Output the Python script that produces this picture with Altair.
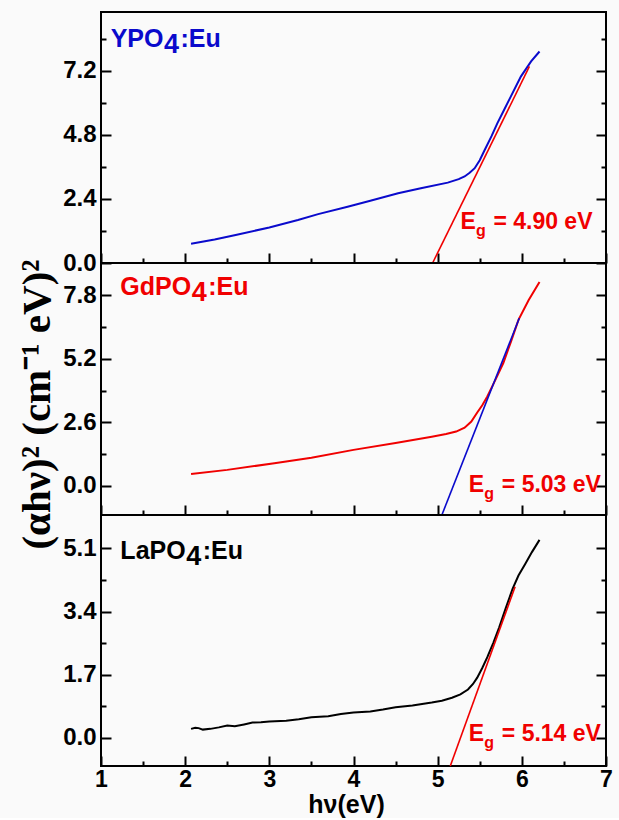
import altair as alt
import pandas as pd

# ---------------- data ----------------
ypo_x = [2.07, 2.35, 2.60, 3.00, 3.34, 3.58, 3.93, 4.20, 4.53, 4.80, 5.12, 5.25, 5.32, 5.38,
         5.44, 5.50, 5.56, 5.64, 5.71, 5.79, 5.87, 5.99, 6.11, 6.21]
ypo_y = [0.72, 0.88, 1.05, 1.33, 1.61, 1.83, 2.11, 2.33, 2.61, 2.80, 3.01, 3.14, 3.24, 3.38,
         3.55, 3.85, 4.24, 4.75, 5.24, 5.74, 6.24, 6.99, 7.55, 7.92]
ypo_fit_x = [4.94, 6.09]
ypo_fit_y = [0.0, 7.36]

gd_x = [2.07, 2.50, 3.06, 3.50, 4.00, 4.50, 4.93, 5.10, 5.22, 5.32, 5.40, 5.47, 5.53, 5.59,
        5.68, 5.78, 5.87, 5.96, 6.08, 6.21]
gd_y = [0.48, 0.65, 0.92, 1.15, 1.47, 1.75, 2.01, 2.12, 2.22, 2.38, 2.63, 3.00, 3.30, 3.66,
        4.30, 5.03, 5.90, 6.80, 7.60, 8.35]
gd_fit_x = [5.05, 5.97]
gd_fit_y = [-1.2, 6.87]

la_x = [2.07, 2.12, 2.16, 2.21, 2.30, 2.40, 2.50, 2.59, 2.70, 2.80, 2.90, 3.00, 3.20, 3.35,
        3.50, 3.70, 3.85, 4.00, 4.20, 4.35, 4.50, 4.70, 4.93, 5.05, 5.17, 5.27, 5.36, 5.42,
        5.47, 5.53, 5.59, 5.66, 5.73, 5.81, 5.89, 5.96, 6.04, 6.12, 6.21]
la_y = [0.24, 0.27, 0.26, 0.22, 0.24, 0.28, 0.33, 0.31, 0.36, 0.41, 0.42, 0.44, 0.46, 0.50,
        0.55, 0.58, 0.64, 0.68, 0.71, 0.76, 0.82, 0.87, 0.95, 1.00, 1.08, 1.17, 1.30, 1.45,
        1.62, 1.88, 2.17, 2.55, 2.97, 3.50, 4.01, 4.37, 4.68, 5.00, 5.33]
la_fit_x = [5.15, 5.92]
la_fit_y = [-0.76, 4.07]

names = ["YPO", "GdPO", "LaPO"]
name_suffix = ["4", ":Eu"]
name_x = [1.115, 1.23, 1.23]
name_y = [8.09, 7.83, 4.81]
eg_values = ["= 4.90 eV", "= 5.03 eV", "= 5.14 eV"]
eg_x = [5.27, 5.37, 5.37]
eg_y = [1.26, -0.25, -0.09]

x_domain = [1, 7]
x_major = [1, 2, 3, 4, 5, 6, 7]
x_minor = [1.5, 2.5, 3.5, 4.5, 5.5, 6.5]

y_domains = [[0, 9.4], [-1.2, 9.13], [-0.76, 6.0]]
y_majors = [[0.0, 2.4, 4.8, 7.2], [0.0, 2.6, 5.2, 7.8], [0.0, 1.7, 3.4, 5.1]]
y_minors = [[1.2, 3.6, 6.0, 8.4], [1.3, 3.9, 6.5], [0.85, 2.55, 4.25]]

x_title = "hν(eV)"
y_title = "(αhν)² (cm⁻¹ eV)²"

# ---------------- styles ----------------
BLUE = "#0a0acc"
RED = "#f00000"
BLACK = "#000000"
SANS = "Liberation Sans"
SERIF = "Liberation Serif"
W = 505
HEIGHTS = [251, 252, 251]


def name_widths(n):
    metrics = {"Y": .667, "P": .667, "O": .778, "G": .778, "d": .611, "L": .611, "a": .556}
    return sum(metrics[c] for c in n) * 25


def panel(i, cx, cy, ccol, fx, fy, fcol, ncol, bottom=False, ytitle=False):
    curve = pd.DataFrame({"x": cx, "y": cy})
    fit = pd.DataFrame({"x": fx, "y": fy})
    xs = alt.Scale(domain=x_domain, nice=False, zero=False)
    ys = alt.Scale(domain=y_domains[i], nice=False, zero=False)

    tick_common = dict(domain=False, grid=False, tickColor="black", tickWidth=2)

    xmaj_kw = dict(orient="bottom", offset=-10, tickSize=10, values=x_major, labels=bottom,
                   **tick_common)
    if bottom:
        xmaj_kw.update(labelFont=SANS, labelFontSize=23, labelFontWeight="bold",
                       labelColor="black", labelPadding=2, labelFlush=False,
                       labelOverlap=False, title=x_title, titleFont=SANS,
                       titleFontSize=25, titleFontWeight="bold", titleColor="black",
                       titleX=245, titleY=36, titleBaseline="top", titleAlign="center")
    else:
        xmaj_kw.update(title=None)

    ymaj_kw = dict(orient="left", offset=-10, tickSize=10, values=y_majors[i], format=".1f",
                   labelFont=SANS, labelFontSize=24, labelFontWeight="bold",
                   labelColor="black", labelPadding=5, labelOverlap=False,
                   labelFlush=False, **tick_common)
    if ytitle:
        ymaj_kw.update(title=y_title, titleFont=SERIF, titleFontSize=41,
                       titleFontWeight="bold", titleColor="black", titleX=-62,
                       titleY=141, titleAngle=-90, titleBaseline="alphabetic",
                       titleAlign="center")
    else:
        ymaj_kw.update(title=None)

    l_curve = alt.Chart(curve).mark_line(color=ccol, strokeWidth=2).encode(
        x=alt.X("x:Q", scale=xs, axis=alt.Axis(**xmaj_kw)),
        y=alt.Y("y:Q", scale=ys, axis=alt.Axis(**ymaj_kw)),
    )
    l_fit = alt.Chart(fit).mark_line(color=fcol, strokeWidth=1.6).encode(
        x=alt.X("x:Q", scale=xs, axis=alt.Axis(orient="bottom", offset=-5, tickSize=5,
                                               values=x_minor, labels=False, title=None,
                                               **tick_common)),
        y=alt.Y("y:Q", scale=ys, axis=alt.Axis(orient="left", offset=-5, tickSize=5,
                                               values=y_minors[i], labels=False,
                                               title=None, **tick_common)),
    )

    eg = pd.DataFrame({"x": [eg_x[i]], "y": [eg_y[i]], "t": ["E"]})
    l_e = alt.Chart(eg).mark_text(color=RED, font=SANS, fontSize=23, fontWeight="bold",
                                  align="left", baseline="alphabetic").encode(
        x=alt.X("x:Q", scale=xs, axis=None),
        y=alt.Y("y:Q", scale=ys, axis=alt.Axis(orient="right", offset=-10, tickSize=10,
                                               values=y_majors[i], labels=False,
                                               title=None, **tick_common)),
        text="t:N",
    )
    egs = pd.DataFrame({"x": [eg_x[i]], "y": [eg_y[i]], "t": ["g"]})
    l_g = alt.Chart(egs).mark_text(color=RED, font=SANS, fontSize=16, fontWeight="bold",
                                   align="left", baseline="alphabetic", dx=15.5, dy=7).encode(
        x=alt.X("x:Q", scale=xs, axis=None),
        y=alt.Y("y:Q", scale=ys, axis=alt.Axis(orient="right", offset=-5, tickSize=5,
                                               values=y_minors[i], labels=False,
                                               title=None, **tick_common)),
        text="t:N",
    )
    egv = pd.DataFrame({"x": [eg_x[i]], "y": [eg_y[i]], "t": [eg_values[i]]})
    l_v = alt.Chart(egv).mark_text(color=RED, font=SANS, fontSize=23, fontWeight="bold",
                                   align="left", baseline="alphabetic", dx=33).encode(
        x=alt.X("x:Q", scale=xs, axis=None),
        y=alt.Y("y:Q", scale=ys, axis=None),
        text="t:N",
    )

    w0 = name_widths(names[i])
    nm = pd.DataFrame({"x": [name_x[i]], "y": [name_y[i]], "t": [names[i]]})
    n4 = pd.DataFrame({"x": [name_x[i]], "y": [name_y[i]], "t": [name_suffix[0]]})
    ne = pd.DataFrame({"x": [name_x[i]], "y": [name_y[i]], "t": [name_suffix[1]]})
    l_n = alt.Chart(nm).mark_text(color=ncol, font=SANS, fontSize=25, fontWeight="bold",
                                  align="left", baseline="alphabetic").encode(
        x=alt.X("x:Q", scale=xs, axis=None), y=alt.Y("y:Q", scale=ys, axis=None), text="t:N")
    l_4 = alt.Chart(n4).mark_text(color=ncol, font=SANS, fontSize=27, fontWeight="bold",
                                  align="left", baseline="alphabetic", dx=w0 + 0.5, dy=6).encode(
        x=alt.X("x:Q", scale=xs, axis=None), y=alt.Y("y:Q", scale=ys, axis=None), text="t:N")
    l_eu = alt.Chart(ne).mark_text(color=ncol, font=SANS, fontSize=25, fontWeight="bold",
                                   align="left", baseline="alphabetic", dx=w0 + 17).encode(
        x=alt.X("x:Q", scale=xs, axis=None), y=alt.Y("y:Q", scale=ys, axis=None), text="t:N")

    return alt.layer(l_curve, l_fit, l_e, l_g, l_v, l_n, l_4, l_eu).resolve_axis(
        x="independent", y="independent").properties(width=W, height=HEIGHTS[i])


p1 = panel(0, ypo_x, ypo_y, BLUE, ypo_fit_x, ypo_fit_y, RED, BLUE)
p2 = panel(1, gd_x, gd_y, RED, gd_fit_x, gd_fit_y, BLUE, RED, ytitle=True)
p3 = panel(2, la_x, la_y, BLACK, la_fit_x, la_fit_y, RED, BLACK, bottom=True)

chart = alt.vconcat(p1, p2, p3, spacing=0, bounds="flush").properties(
    background="#fafafa",
    padding={"left": 14, "top": 11, "right": 5, "bottom": 0},
).configure_view(stroke="black", strokeWidth=2)

chart.save("out.html", embed_options={"renderer": "svg", "actions": False})
